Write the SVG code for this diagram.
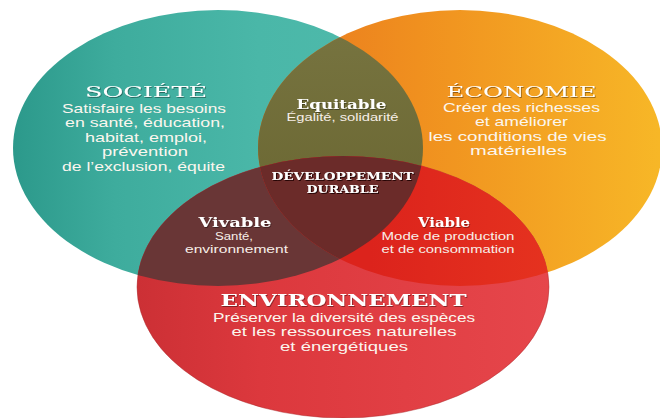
<svg xmlns="http://www.w3.org/2000/svg" width="660" height="418" viewBox="0 0 660 418">
  <defs>
    <linearGradient id="gTeal" gradientUnits="userSpaceOnUse" x1="13" y1="0" x2="423" y2="0">
      <stop offset="0" stop-color="#2c998b"/>
      <stop offset="0.25" stop-color="#3eac9d"/>
      <stop offset="0.6" stop-color="#4ab7a8"/>
      <stop offset="1" stop-color="#50bbac"/>
    </linearGradient>
    <linearGradient id="gOrange" gradientUnits="userSpaceOnUse" x1="258" y1="0" x2="660" y2="0">
      <stop offset="0" stop-color="#e8761e"/>
      <stop offset="0.4" stop-color="#f0901f"/>
      <stop offset="1" stop-color="#f7b727"/>
    </linearGradient>
    <linearGradient id="gRed" gradientUnits="userSpaceOnUse" x1="137" y1="0" x2="549" y2="0">
      <stop offset="0" stop-color="#cc3035"/>
      <stop offset="0.3" stop-color="#dc383d"/>
      <stop offset="1" stop-color="#e6464b"/>
    </linearGradient>
    <linearGradient id="gOlive" gradientUnits="userSpaceOnUse" x1="0" y1="38" x2="0" y2="258">
      <stop offset="0" stop-color="#76733f"/>
      <stop offset="1" stop-color="#68642f"/>
    </linearGradient>
    <linearGradient id="gViable" gradientUnits="userSpaceOnUse" x1="370" y1="0" x2="548" y2="0">
      <stop offset="0" stop-color="#dc231c"/>
      <stop offset="1" stop-color="#e5321f"/>
    </linearGradient>
    <clipPath id="cTeal"><ellipse cx="218" cy="148" rx="205" ry="138"/></clipPath>
    <clipPath id="cOrange"><ellipse cx="460" cy="148" rx="202" ry="138"/></clipPath>
    <filter id="sh" x="-10%" y="-30%" width="120%" height="160%">
      <feDropShadow dx="0.8" dy="1" stdDeviation="0.7" flood-color="#000" flood-opacity="0.4"/>
    </filter>
    <filter id="sh2" x="-10%" y="-30%" width="120%" height="160%">
      <feDropShadow dx="1" dy="1" stdDeviation="0.5" flood-color="#1a0505" flood-opacity="0.9"/>
    </filter>
  </defs>
  <style>
    .title { font-family: "DejaVu Serif", "Liberation Serif", serif; fill: #ffffff; text-anchor: middle; filter: url(#sh); }
    .body { font-family: "Liberation Sans", Arial, sans-serif; fill: #fbf6ee; text-anchor: middle; font-size: 12.8px; }
    .small { font-family: "Liberation Sans", Arial, sans-serif; fill: #f7efe8; text-anchor: middle; font-size: 10px; }
    .dd { font-family: "DejaVu Serif", "Liberation Serif", serif; font-size: 11.5px; font-weight: bold; fill: #ffffff; text-anchor: middle; filter: url(#sh2); }
  </style>
  <rect width="660" height="418" fill="#ffffff"/>

  <g id="societe">
    <ellipse cx="218" cy="148" rx="205" ry="138" fill="url(#gTeal)"/>
    <text class="title" x="146" y="96.5" font-size="14.5" textLength="122" lengthAdjust="spacingAndGlyphs">SOCIÉTÉ</text>
    <text class="body" x="144" y="112.5" textLength="164" lengthAdjust="spacingAndGlyphs">Satisfaire les besoins</text>
    <text class="body" x="145" y="127" textLength="160" lengthAdjust="spacingAndGlyphs">en santé, éducation,</text>
    <text class="body" x="146" y="141.5" textLength="122" lengthAdjust="spacingAndGlyphs">habitat, emploi,</text>
    <text class="body" x="145" y="156" textLength="86" lengthAdjust="spacingAndGlyphs">prévention</text>
    <text class="body" x="143.5" y="170.5" textLength="163" lengthAdjust="spacingAndGlyphs">de l’exclusion, équite</text>
  </g>

  <g id="economie">
    <ellipse cx="460" cy="148" rx="202" ry="138" fill="url(#gOrange)"/>
    <text class="title" x="521.5" y="96.5" font-size="14.5" textLength="150" lengthAdjust="spacingAndGlyphs">ÉCONOMIE</text>
    <text class="body" x="521.5" y="111.5" textLength="157" lengthAdjust="spacingAndGlyphs">Créer des richesses</text>
    <text class="body" x="521.5" y="126" textLength="93" lengthAdjust="spacingAndGlyphs">et améliorer</text>
    <text class="body" x="517.5" y="140.5" textLength="178" lengthAdjust="spacingAndGlyphs">les conditions de vies</text>
    <text class="body" x="518.5" y="155" textLength="97" lengthAdjust="spacingAndGlyphs">matérielles</text>
  </g>

  <g id="environnement">
    <ellipse cx="343" cy="287" rx="206" ry="131" fill="url(#gRed)" stroke="#a8282b" stroke-opacity="0.45" stroke-width="1"/>
    <text class="title" x="343.5" y="305.7" font-size="16.5" font-weight="bold" textLength="246" lengthAdjust="spacingAndGlyphs">ENVIRONNEMENT</text>
    <text class="body" x="344" y="321.5" textLength="262" lengthAdjust="spacingAndGlyphs">Préserver la diversité des espèces</text>
    <text class="body" x="344" y="336" textLength="225" lengthAdjust="spacingAndGlyphs">et les ressources naturelles</text>
    <text class="body" x="344" y="350.5" textLength="128" lengthAdjust="spacingAndGlyphs">et énergétiques</text>
  </g>

  <g id="equitable">
    <ellipse cx="460" cy="148" rx="202" ry="138" fill="url(#gOlive)" clip-path="url(#cTeal)"/>
    <text class="title" x="341.5" y="109" font-size="12" font-weight="bold" textLength="90" lengthAdjust="spacingAndGlyphs">Equitable</text>
    <text class="small" x="342.5" y="121" textLength="112" lengthAdjust="spacingAndGlyphs">Égalité, solidarité</text>
  </g>

  <g id="vivable">
    <ellipse cx="343" cy="287" rx="206" ry="131" fill="#693636" clip-path="url(#cTeal)"/>
    <text class="title" x="235" y="227.3" font-size="12" font-weight="bold" textLength="73" lengthAdjust="spacingAndGlyphs">Vivable</text>
    <text class="small" x="234" y="239.7" textLength="38" lengthAdjust="spacingAndGlyphs">Santé,</text>
    <text class="small" x="236.5" y="252.5" textLength="103" lengthAdjust="spacingAndGlyphs">environnement</text>
  </g>

  <g id="viable">
    <ellipse cx="343" cy="287" rx="206" ry="131" fill="url(#gViable)" clip-path="url(#cOrange)"/>
    <text class="title" x="444" y="227" font-size="12" font-weight="bold" textLength="52" lengthAdjust="spacingAndGlyphs">Viable</text>
    <text class="small" x="448" y="239.7" font-size="10.3" textLength="133" lengthAdjust="spacingAndGlyphs">Mode de production</text>
    <text class="small" x="448" y="252.5" font-size="10.3" textLength="133" lengthAdjust="spacingAndGlyphs">et de consommation</text>
  </g>

  <g id="developpement-durable">
    <g clip-path="url(#cTeal)">
      <ellipse cx="343" cy="287" rx="206" ry="131" fill="#6b2b29" clip-path="url(#cOrange)"/>
    </g>
    <text class="dd" x="342.5" y="179.5" textLength="142" lengthAdjust="spacingAndGlyphs">DÉVELOPPEMENT</text>
    <text class="dd" x="342.5" y="193" textLength="72" lengthAdjust="spacingAndGlyphs">DURABLE</text>
  </g>

  <g id="connectors"/>
</svg>
